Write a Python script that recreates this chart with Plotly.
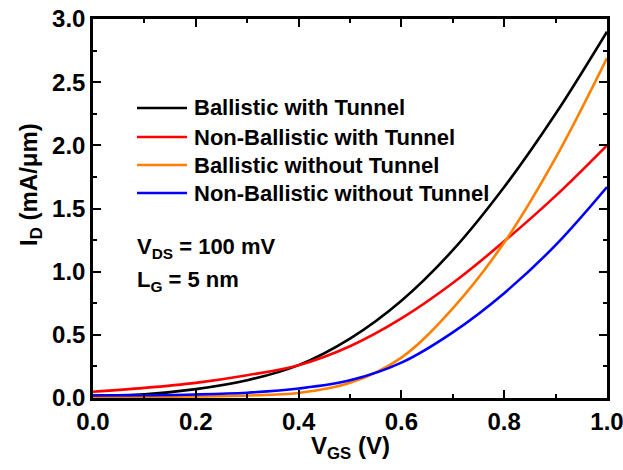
import plotly.graph_objects as go

# Gate voltage sweep (V)
vgs = [0.0, 0.1, 0.2, 0.3, 0.4, 0.5, 0.6, 0.7, 0.8, 0.9, 1.0]

# Drain current (mA/um) for each transport model
ballistic_tunnel = [0.02, 0.03, 0.07, 0.14, 0.26, 0.47, 0.77, 1.17, 1.67, 2.25, 2.90]
nonballistic_tunnel = [0.05, 0.08, 0.12, 0.18, 0.26, 0.41, 0.63, 0.91, 1.24, 1.60, 2.00]
ballistic_no_tunnel = [0.01, 0.01, 0.012, 0.02, 0.04, 0.12, 0.32, 0.71, 1.23, 1.90, 2.69]
nonballistic_no_tunnel = [0.02, 0.022, 0.028, 0.042, 0.075, 0.14, 0.28, 0.52, 0.83, 1.21, 1.67]

series_names = [
    "Ballistic with Tunnel",
    "Non-Ballistic with Tunnel",
    "Ballistic without Tunnel",
    "Non-Ballistic without Tunnel",
]
series_values = [ballistic_tunnel, nonballistic_tunnel, ballistic_no_tunnel, nonballistic_no_tunnel]
series_colors = ["#000000", "#ff0000", "#ff8000", "#0000ff"]

x_ticks = [0.0, 0.2, 0.4, 0.6, 0.8, 1.0]
y_ticks = [0.0, 0.5, 1.0, 1.5, 2.0, 2.5, 3.0]

FONT = "Liberation Sans, Arial, sans-serif"
W, H = 623, 470
ML, MR, MT, MB = 93, 16, 19, 72
PW, PH = W - ML - MR, H - MT - MB


def px_x(p):
    return (p - ML) / PW


def px_y(p):
    return (H - MB - p) / PH


fig = go.Figure()
for name, vals, col in zip(series_names, series_values, series_colors):
    fig.add_trace(go.Scatter(
        x=vgs, y=vals, name=name, mode="lines",
        line=dict(color=col, width=2.6, shape="spline", smoothing=1.0),
        showlegend=False,
    ))

# Hand-drawn legend: short line samples with bold labels
legend_rows = [108, 137, 165, 193]
annotations = []
shapes = []
for name, col, row in zip(series_names, series_colors, legend_rows):
    shapes.append(dict(type="line", xref="paper", yref="paper",
                       x0=px_x(137), x1=px_x(187), y0=px_y(row), y1=px_y(row),
                       line=dict(color=col, width=2.6)))
    annotations.append(dict(xref="paper", yref="paper", x=px_x(192), y=px_y(row),
                            xanchor="left", yanchor="middle", showarrow=False,
                            text="<b>%s</b>" % name,
                            font=dict(family=FONT, size=22, color="black")))

# Operating conditions
annotations.append(dict(xref="paper", yref="paper", x=px_x(135), y=px_y(248),
                        xanchor="left", yanchor="middle", showarrow=False,
                        text="<b>V<sub>DS</sub> = 100 mV</b>",
                        font=dict(family=FONT, size=22, color="black")))
annotations.append(dict(xref="paper", yref="paper", x=px_x(135), y=px_y(281),
                        xanchor="left", yanchor="middle", showarrow=False,
                        text="<b>L<sub>G</sub> = 5 nm</b>",
                        font=dict(family=FONT, size=22, color="black")))

# Axis titles
annotations.append(dict(xref="paper", yref="paper", x=px_x(31), y=px_y(185),
                        xanchor="center", yanchor="middle", showarrow=False,
                        textangle=-90, text="<b>I<sub>D</sub> (mA/\u03bcm)</b>",
                        font=dict(family=FONT, size=24, color="black")))
annotations.append(dict(xref="paper", yref="paper", x=px_x(350), y=px_y(447),
                        xanchor="center", yanchor="middle", showarrow=False,
                        text="<b>V<sub>GS</sub> (V)</b>",
                        font=dict(family=FONT, size=24, color="black")))

axis_common = dict(
    showgrid=False, zeroline=False,
    showline=True, linecolor="black", linewidth=2.5, mirror="ticks",
    ticks="inside", ticklen=8, tickwidth=2, tickcolor="black",
    tickfont=dict(family=FONT, size=24, color="black"),
    ticklabeloverflow="allow", automargin=False,
)

fig.update_xaxes(range=[0, 1], tickvals=x_ticks,
                 ticktext=["<b>%.1f</b>" % v for v in x_ticks],
                 minor=dict(ticks="inside", ticklen=4, tickwidth=2, tickcolor="black", dtick=0.1),
                 **axis_common)
fig.update_yaxes(range=[0, 3], tickvals=y_ticks,
                 ticktext=["<b>%.1f</b>" % v for v in y_ticks],
                 minor=dict(ticks="inside", ticklen=4, tickwidth=2, tickcolor="black", dtick=0.25),
                 **axis_common)

fig.update_layout(
    width=W, height=H,
    margin=dict(l=ML, r=MR, t=MT, b=MB),
    paper_bgcolor="white", plot_bgcolor="white",
    shapes=shapes, annotations=annotations,
    showlegend=False,
)

fig.write_html("out.html")
